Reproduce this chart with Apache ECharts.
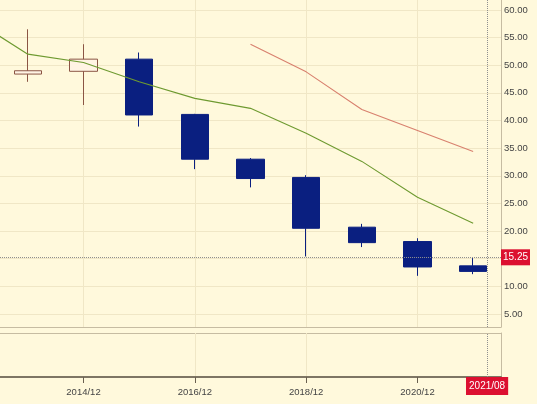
<!DOCTYPE html>
<html><head><meta charset="utf-8">
<script src="https://cdn.jsdelivr.net/npm/echarts@6/dist/echarts.min.js"></script>
<style>html,body{margin:0;padding:0;background:#fff;}#c{width:537px;height:404px;}</style>
</head><body><div id="c"></div>
<script>
// Annual candles (x = year, candle sits at the December of that year)
const years  = [2013, 2014, 2015, 2016, 2017, 2018, 2019, 2020, 2021];
const opens  = [48.4, 48.9, 51.1, 41.1, 33.0, 29.7, 20.7, 18.1, 13.7];
const closes = [49.0, 51.1, 41.0, 33.0, 29.5, 20.5, 17.9, 13.5, 12.7];
const lows   = [47.0, 42.8, 38.9, 31.2, 27.9, 15.4, 17.1, 11.9, 12.2];
const highs  = [56.5, 53.8, 52.3, 41.2, 33.2, 30.1, 21.3, 18.7, 15.1];
// Moving averages
const greenYears = [2012, 2013, 2014, 2015, 2016, 2017, 2018, 2019, 2020, 2021];
const greenMA    = [58.4, 52.0, 50.5, 47.0, 44.0, 42.2, 37.7, 32.6, 26.1, 21.4];
const redYears = [2017, 2018, 2019, 2020, 2021];
const redMA    = [53.8, 48.8, 42.0, 38.2, 34.4];
// Axis labels
const xTickYears  = [2014, 2016, 2018, 2020];
const xTickLabels = ['2014/12', '2016/12', '2018/12', '2020/12'];
// Crosshair
const cursorTime = 2021.25;
const cursorTimeLabel = '2021/08';
const cursorPrice = 15.25;

const FONT = "'Liberation Sans', Arial, sans-serif";
const gridCol = '#F0E7C6';
const borderCol = '#C6BCA2';
const xMin = 2012.5, xMax = 2021.5;

const pointerLine = {color: '#8f8f8f', type: 'dotted', width: 1};
const pointerLabel = {backgroundColor: '#DC1030', color: '#fff', fontFamily: FONT, fontSize: 10, margin: 0, borderRadius: 0, shadowBlur: 0};

const chart = echarts.init(document.getElementById('c'));
chart.setOption({
  backgroundColor: '#FFF9DC',
  animation: false,
  axisPointer: {triggerOn: 'none'},
  grid: [
    {left: 0, right: 36, top: 0, height: 327},
    {left: 0, right: 36, top: 333, height: 44}
  ],
  xAxis: [
    {type: 'value', gridIndex: 0, min: xMin, max: xMax, minInterval: 2, maxInterval: 2,
     axisLine: {show: true, onZero: false, lineStyle: {color: borderCol}},
     axisTick: {show: false}, axisLabel: {show: false},
     splitLine: {show: true, showMinLine: false, showMaxLine: false, lineStyle: {color: gridCol}},
     axisPointer: {show: true, type: 'line', snap: false, status: 'show', value: cursorTime,
                   lineStyle: pointerLine, label: {show: false}}},
    {type: 'value', gridIndex: 1, min: xMin, max: xMax, minInterval: 2, maxInterval: 2,
     axisLine: {show: true, onZero: false, lineStyle: {color: '#7E7664', width: 2}},
     axisTick: {show: true, customValues: xTickYears, length: 6, lineStyle: {color: '#6A6050'}},
     axisLabel: {customValues: xTickYears, formatter: v => xTickLabels[xTickYears.indexOf(v)],
                 fontFamily: FONT, fontSize: 9.5, color: '#444', margin: 10},
     splitLine: {show: true, showMinLine: false, showMaxLine: false, lineStyle: {color: gridCol}},
     axisPointer: {show: true, type: 'line', snap: false, status: 'show', value: cursorTime,
                   lineStyle: pointerLine,
                   label: Object.assign({show: true, padding: [4, 3, 4, 3], formatter: () => cursorTimeLabel}, pointerLabel)}}
  ],
  yAxis: [
    {type: 'value', gridIndex: 0, position: 'right', min: 2.64, max: 61.8, minInterval: 5, maxInterval: 5,
     axisLine: {show: true, onZero: false, lineStyle: {color: borderCol}},
     axisTick: {show: false},
     axisLabel: {showMinLabel: false, showMaxLabel: false, formatter: v => v.toFixed(2),
                 fontFamily: FONT, fontSize: 9.5, color: '#444', margin: 3},
     splitLine: {show: true, showMinLine: false, showMaxLine: false, lineStyle: {color: gridCol}},
     axisPointer: {show: true, type: 'line', snap: false, status: 'show', value: cursorPrice,
                   lineStyle: pointerLine,
                   label: Object.assign({show: true, padding: [3, 2, 3, 2], formatter: p => Number(p.value).toFixed(2)}, pointerLabel)}},
    {type: 'value', gridIndex: 1, position: 'right', min: 0, max: 1, interval: 1,
     axisLine: {show: true, onZero: false, lineStyle: {color: borderCol}},
     axisTick: {show: false}, axisLabel: {show: false},
     splitLine: {show: true, lineStyle: {color: borderCol}}}
  ],
  series: [
    {type: 'candlestick', xAxisIndex: 0, yAxisIndex: 0, barWidth: '50%',
     data: years.map((y, i) => [y, opens[i], closes[i], lows[i], highs[i]]),
     itemStyle: {color: '#FFF4E4', color0: '#0A1F80', borderColor: '#8B5544', borderColor0: '#0A1F80', borderWidth: 1}},
    {type: 'line', xAxisIndex: 0, yAxisIndex: 0, symbol: 'none', clip: true,
     data: greenYears.map((y, i) => [y, greenMA[i]]),
     lineStyle: {color: '#6E9A30', width: 1.1}},
    {type: 'line', xAxisIndex: 0, yAxisIndex: 0, symbol: 'none', clip: true,
     data: redYears.map((y, i) => [y, redMA[i]]),
     lineStyle: {color: '#D8806E', width: 1.1}}
  ]
});
</script></body></html>
